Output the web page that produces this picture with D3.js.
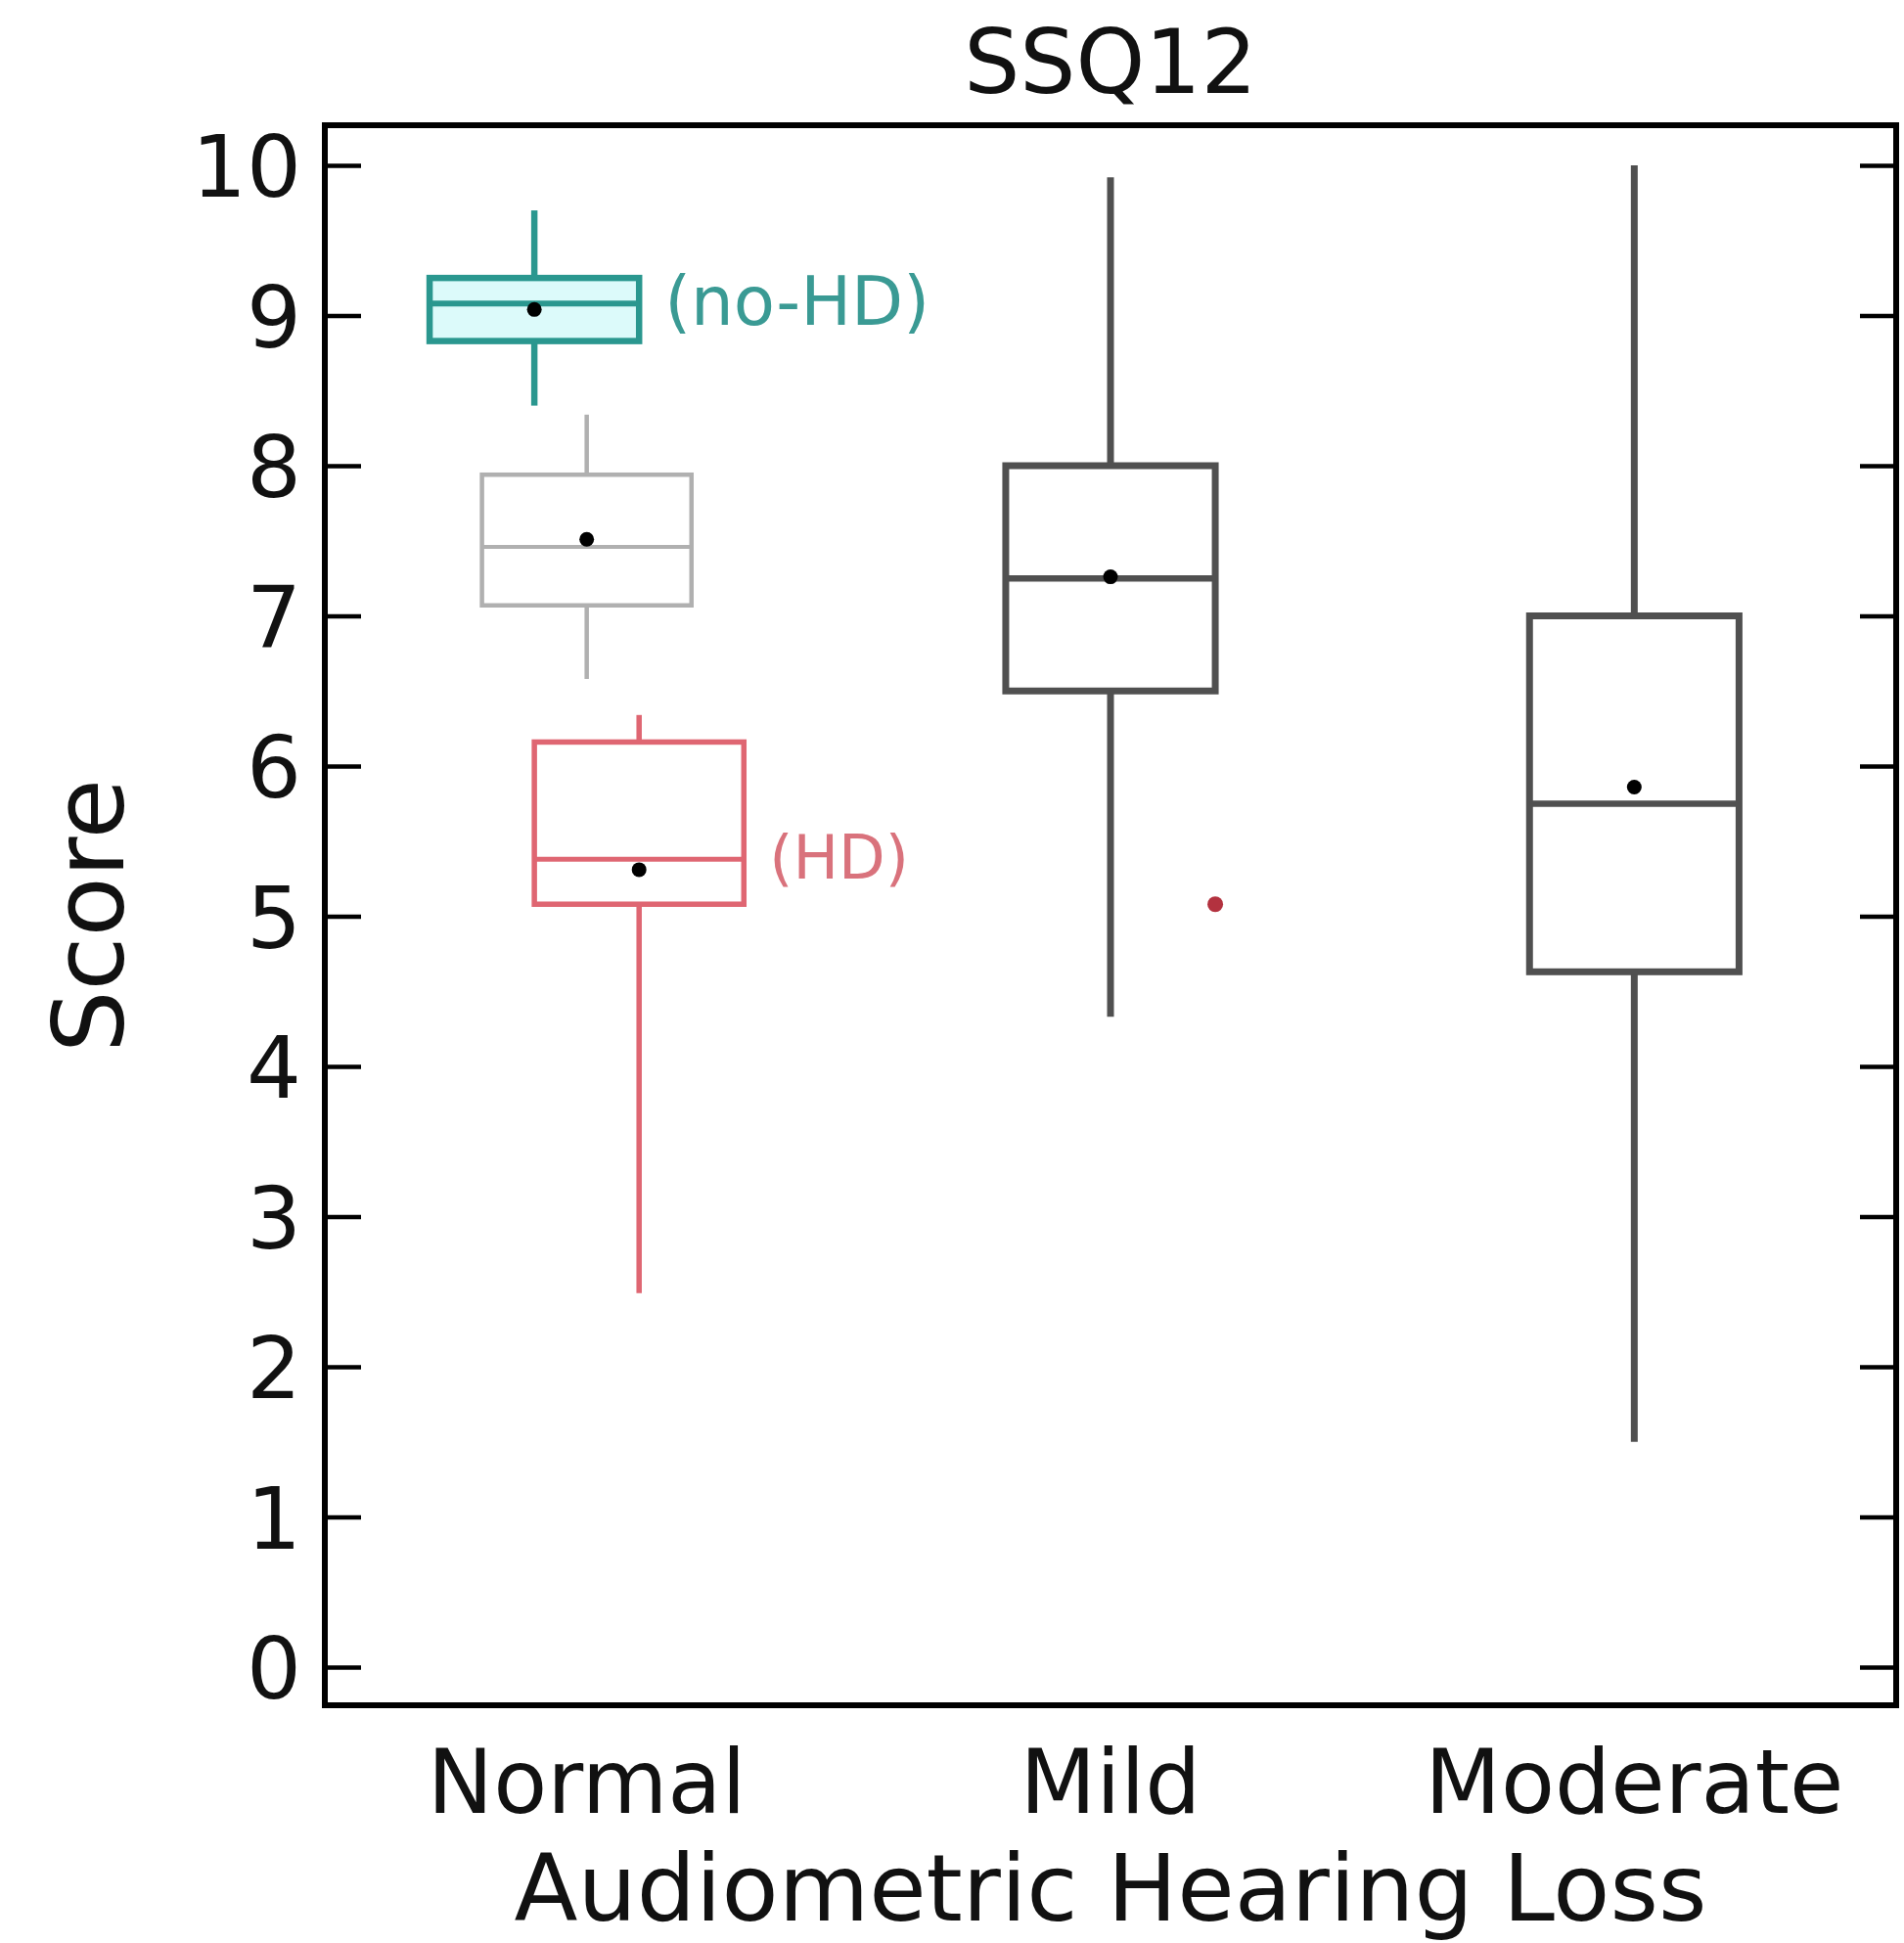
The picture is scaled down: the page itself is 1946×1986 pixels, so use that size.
<!DOCTYPE html>
<html>
<head>
<meta charset="utf-8">
<script src="https://cdn.jsdelivr.net/npm/d3@7"></script>
<style>
  html, body { margin: 0; padding: 0; background: #fff; }
  svg { display: block; }
  text { font-family: "DejaVu Sans", sans-serif; }
</style>
</head>
<body>
<svg id="chart" width="1946" height="1986"></svg>
<script>
// SSQ12 scores by degree of audiometric hearing loss
const categories = ["Normal", "Mild", "Moderate"];
const subgroups = ["noHD", "all", "HD"];

// one entry per box
const boxCategory  = ["Normal", "Normal", "Normal", "Mild", "Moderate"];
const boxSubgroup  = ["noHD",   "all",    "HD",     "all",  "all"];
const whiskerLow   = [8.40, 6.58, 2.49, 4.33, 1.50];
const quartile1    = [8.83, 7.07, 5.08, 6.50, 4.63];
const medians      = [9.08, 7.46, 5.38, 7.25, 5.75];
const quartile3    = [9.25, 7.94, 6.16, 8.00, 7.00];
const whiskerHigh  = [9.70, 8.34, 6.34, 9.92, 10.00];
const means        = [9.04, 7.51, 5.31, 7.26, 5.86];

// single outlying value in the Mild group
const outlierCategory = ["Mild"];
const outlierValue = [5.08];

const yTicks = [0, 1, 2, 3, 4, 5, 6, 7, 8, 9, 10];

const styles = {
  noHD: { stroke: "#2a978f", fill: "#dcfafa", width: 6.5, label: "(no-HD)", labelColor: "#3a9a94", labelSize: 69 },
  all:  { stroke: "#505050", fill: "none", width: 7 },
  HD:   { stroke: "#df6672", fill: "none", width: 5.5, label: "(HD)", labelColor: "#d9727c", labelSize: 62 }
};
const lightAll = { stroke: "#b0b0b0", width: 4.5 };

const svg = d3.select("#chart");
const frame = { left: 332, right: 1938, top: 128, bottom: 1743 };

const x = d3.scalePoint(categories, [frame.left, frame.right]).padding(0.5);
const boxW = x.step() * 0.4;
const xOff = d3.scalePoint(subgroups, [-boxW / 4, boxW / 4]);
const y = d3.scaleLinear([0, 10], [1704, 169]);

// frame
svg.append("rect")
  .attr("x", frame.left).attr("y", frame.top)
  .attr("width", frame.right - frame.left).attr("height", frame.bottom - frame.top)
  .attr("fill", "none").attr("stroke", "#000").attr("stroke-width", 6);

// left axis with inward ticks
const left = svg.append("g").attr("transform", `translate(${frame.left},0)`)
  .call(d3.axisLeft(y).tickValues(yTicks).tickFormat(d3.format("d")).tickSize(-37).tickPadding(24));
left.select(".domain").remove();
left.selectAll(".tick line").attr("stroke", "#000").attr("stroke-width", 4.5);
left.selectAll(".tick text").attr("font-size", 88).attr("fill", "#111")
  .attr("font-family", "DejaVu Sans, sans-serif").attr("dy", "0.36em");

// right axis, ticks only
const right = svg.append("g").attr("transform", `translate(${frame.right},0)`)
  .call(d3.axisRight(y).tickValues(yTicks).tickFormat("").tickSize(-37));
right.select(".domain").remove();
right.selectAll(".tick line").attr("stroke", "#000").attr("stroke-width", 4.5);

// boxes
const boxes = boxCategory.map((c, i) => ({
  cat: c, sub: boxSubgroup[i], lo: whiskerLow[i], q1: quartile1[i], med: medians[i],
  q3: quartile3[i], hi: whiskerHigh[i], mean: means[i]
}));

const g = svg.append("g");
boxes.forEach(b => {
  const cx = x(b.cat) + xOff(b.sub);
  const lightAllBox = b.cat === "Normal" && b.sub === "all";
  const st = lightAllBox ? Object.assign({}, styles.all, lightAll) : styles[b.sub];
  const bg = g.append("g");
  // whiskers
  bg.append("line").attr("x1", cx).attr("x2", cx).attr("y1", y(b.hi)).attr("y2", y(b.q3))
    .attr("stroke", st.stroke).attr("stroke-width", st.width);
  bg.append("line").attr("x1", cx).attr("x2", cx).attr("y1", y(b.q1)).attr("y2", y(b.lo))
    .attr("stroke", st.stroke).attr("stroke-width", st.width);
  // box
  bg.append("rect").attr("x", cx - boxW / 2).attr("y", y(b.q3))
    .attr("width", boxW).attr("height", y(b.q1) - y(b.q3))
    .attr("fill", st.fill === "none" ? "#fff" : st.fill).attr("fill-opacity", st.fill === "none" ? 0 : 1)
    .attr("stroke", st.stroke).attr("stroke-width", st.width);
  // median
  bg.append("line").attr("x1", cx - boxW / 2).attr("x2", cx + boxW / 2)
    .attr("y1", y(b.med)).attr("y2", y(b.med))
    .attr("stroke", st.stroke).attr("stroke-width", st.width - 0.5);
  // mean
  bg.append("circle").attr("cx", cx).attr("cy", y(b.mean)).attr("r", 7.5).attr("fill", "#000");
  if (st.label) {
    bg.append("text").attr("x", cx + boxW / 2 + 26).attr("y", y(b.med))
      .attr("dy", "0.32em").attr("font-size", st.labelSize).attr("fill", st.labelColor)
      .text(st.label);
  }
});

// outlier, drawn at the right edge of its group's box
outlierCategory.forEach((c, i) => {
  g.append("circle").attr("cx", x(c) + boxW / 2).attr("cy", y(outlierValue[i]))
    .attr("r", 8).attr("fill", "#b3323f");
});

// category labels
svg.append("g").selectAll("text").data(categories).join("text")
  .attr("x", d => x(d)).attr("y", 1853).attr("text-anchor", "middle")
  .attr("font-size", 90).attr("fill", "#111").text(d => d);

// titles
svg.append("text").attr("x", x("Mild")).attr("y", 95).attr("text-anchor", "middle")
  .attr("font-size", 90).attr("fill", "#111").text("SSQ12");
svg.append("text").attr("x", x("Mild")).attr("y", 1963).attr("text-anchor", "middle")
  .attr("font-size", 95).attr("fill", "#111").text("Audiometric Hearing Loss");
svg.append("text").attr("transform", `translate(126,936) rotate(-90)`).attr("text-anchor", "middle")
  .attr("font-size", 100).attr("fill", "#111").text("Score");
</script>
</body>
</html>
